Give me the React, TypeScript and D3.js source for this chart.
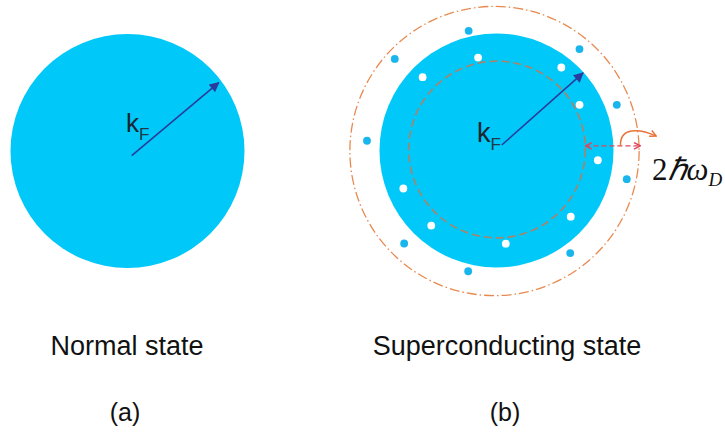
import React from "react";
import * as d3 from "d3";

// Panel data (k-space, in units of k_F)
const panels = ["a", "b"];
const panelCenterX = [127.5, 496.5]; // pixel centers (layout)
const panelCenterY = [151, 150.5];
const stateLabels = ["Normal state", "Superconducting state"];
const panelLabels = ["(a)", "(b)"];

// Fermi-vector arrows: [kx, ky]
const arrowStart = [
  [0.036, -0.04],
  [0.045, 0.047],
];
const arrowEnd = [
  [0.78, 0.585],
  [0.74, 0.663],
];

// White dots (holes inside Fermi sphere): angle (deg), radius (k/k_F)
const whiteAngles = [101.2, 135.2, 52, 28.8, -5.5, 202.2, 229, 275.7, 318.3];
const whiteRadii = [0.81, 0.89, 0.9, 0.81, 0.87, 0.86, 0.85, 0.8, 0.85];
// Blue dots (excited electrons outside): angle (deg), radius
const blueAngles = [103.1, 138, 50.7, 20.8, 175.7, -12.4, 225.2, 305.7, 256.8];
const blueRadii = [1.05, 1.17, 1.12, 1.1, 1.11, 1.14, 1.12, 1.08, 1.06];

const innerShellRadius = 0.755;
const outerShellRadius = 1.236;
const shellArrowK = [0.76, 1.23];
const shellArrowKy = 0.04;

const W = 725;
const H = 432;
const kPx = 117;

export default function App() {
  const sx = (i: number) =>
    d3.scaleLinear().domain([-1, 1]).range([panelCenterX[i] - kPx, panelCenterX[i] + kPx]);
  const sy = (i: number) =>
    d3.scaleLinear().domain([-1, 1]).range([panelCenterY[i] + kPx, panelCenterY[i] - kPx]);
  const rs = d3.scaleLinear().domain([0, 1]).range([0, kPx]);

  const cyan = "#00c8f8";
  const arrowBlue = "#2b3a9c";

  const polar = (i: number, a: number, r: number) => {
    const t = (a * Math.PI) / 180;
    return [sx(i)(r * Math.cos(t)), sy(i)(r * Math.sin(t))];
  };

  const bx = sx(1);
  const by = sy(1);
  const curve = d3.path();
  const c0x = bx(1.06), c0y = by(shellArrowKy);
  curve.moveTo(c0x, c0y);
  curve.bezierCurveTo(c0x - 1, c0y - 18, c0x + 18, c0y - 18, c0x + 35, c0y - 10);

  return (
    <svg
      width={W}
      height={H}
      style={{ position: "absolute", left: 0, top: 0, background: "#fff" }}
      fontFamily="Liberation Sans, Arial, sans-serif"
    >
      <defs>
        <marker id="ahBig" viewBox="0 0 10 10" refX="9" refY="5" markerWidth="11" markerHeight="10" orient="auto" markerUnits="userSpaceOnUse">
          <path d="M0,0 L10,5 L0,10 z" fill={arrowBlue} />
        </marker>
        <marker id="redEnd" viewBox="0 0 10 10" refX="9" refY="5" markerWidth="8" markerHeight="8" orient="auto-start-reverse" markerUnits="userSpaceOnUse">
          <path d="M1,1 L9,5 L1,9" fill="none" stroke="#e2455a" strokeWidth="1.8" />
        </marker>
        <marker id="orEnd" viewBox="0 0 10 10" refX="8" refY="5" markerWidth="8" markerHeight="8" orient="auto" markerUnits="userSpaceOnUse">
          <path d="M1,1 L9,5 L1,9" fill="none" stroke="#e8743a" strokeWidth="1.8" />
        </marker>
      </defs>

      {/* outer shell (b) */}
      <circle cx={bx(0) - 2} cy={by(0) + 0.5} r={rs(outerShellRadius)} fill="none" stroke="#e88a50" strokeWidth={1.3} strokeDasharray="10 3 1.5 3" />

      {panels.map((p, i) => (
        <circle key={p} cx={sx(i)(0)} cy={sy(i)(0)} r={rs(1)} fill={cyan} />
      ))}

      {/* inner shell (b) */}
      <circle cx={bx(0) + 0.5} cy={by(0) - 1} r={rs(innerShellRadius)} fill="none" stroke="#a8846a" strokeWidth={1.6} strokeDasharray="8 4" />

      {whiteAngles.map((a, j) => {
        const [x, y] = polar(1, a, whiteRadii[j]);
        return <circle key={"w" + j} cx={x} cy={y} r={3.9} fill="#ffffff" />;
      })}
      {blueAngles.map((a, j) => {
        const [x, y] = polar(1, a, blueRadii[j]);
        return <circle key={"b" + j} cx={x} cy={y} r={3.9} fill="#18b6ec" />;
      })}

      {panels.map((p, i) => (
        <line
          key={"ar" + p}
          x1={sx(i)(arrowStart[i][0])}
          y1={sy(i)(arrowStart[i][1])}
          x2={sx(i)(arrowEnd[i][0])}
          y2={sy(i)(arrowEnd[i][1])}
          stroke={arrowBlue}
          strokeWidth={1.5}
          markerEnd="url(#ahBig)"
        />
      ))}

      {/* k_F labels */}
      {panels.map((p, i) => (
        <text key={"kf" + p} x={sx(i)(0) - (i === 0 ? 1.5 : 19.5)} y={sy(i)(0) - (i === 0 ? 19 : 9)} fill="#1a2630">
          <tspan fontSize={i === 0 ? 26 : 27}>k</tspan>
          <tspan fontSize={17} dy={8} fill="#1d3a48">F</tspan>
        </text>
      ))}

      {/* 2ħω_D shell arrow */}
      <line x1={bx(shellArrowK[0])} y1={by(shellArrowKy)} x2={bx(shellArrowK[1])} y2={by(shellArrowKy)} stroke="#e2455a" strokeWidth={1.3} strokeDasharray="5 3" markerStart="url(#redEnd)" markerEnd="url(#redEnd)" />
      <path d={curve.toString()} fill="none" stroke="#e8743a" strokeWidth={1.5} markerEnd="url(#orEnd)" />
      <text x={652} y={180} fontFamily="Liberation Serif, Times New Roman, serif" fontSize={31} fill="#111">
        <tspan>2</tspan>
        <tspan fontStyle="italic">ℏω</tspan>
        <tspan fontStyle="italic" fontSize={19} dy={6}>D</tspan>
      </text>

      {panels.map((p, i) => (
        <text key={"st" + p} x={i === 0 ? 127 : 507} y={355} textAnchor="middle" fontSize={27} fill="#111">
          {stateLabels[i]}
        </text>
      ))}
      {panels.map((p, i) => (
        <text key={"pl" + p} x={i === 0 ? 125 : 505} y={421} textAnchor="middle" fontSize={25} fill="#111">
          {panelLabels[i]}
        </text>
      ))}
    </svg>
  );
}
